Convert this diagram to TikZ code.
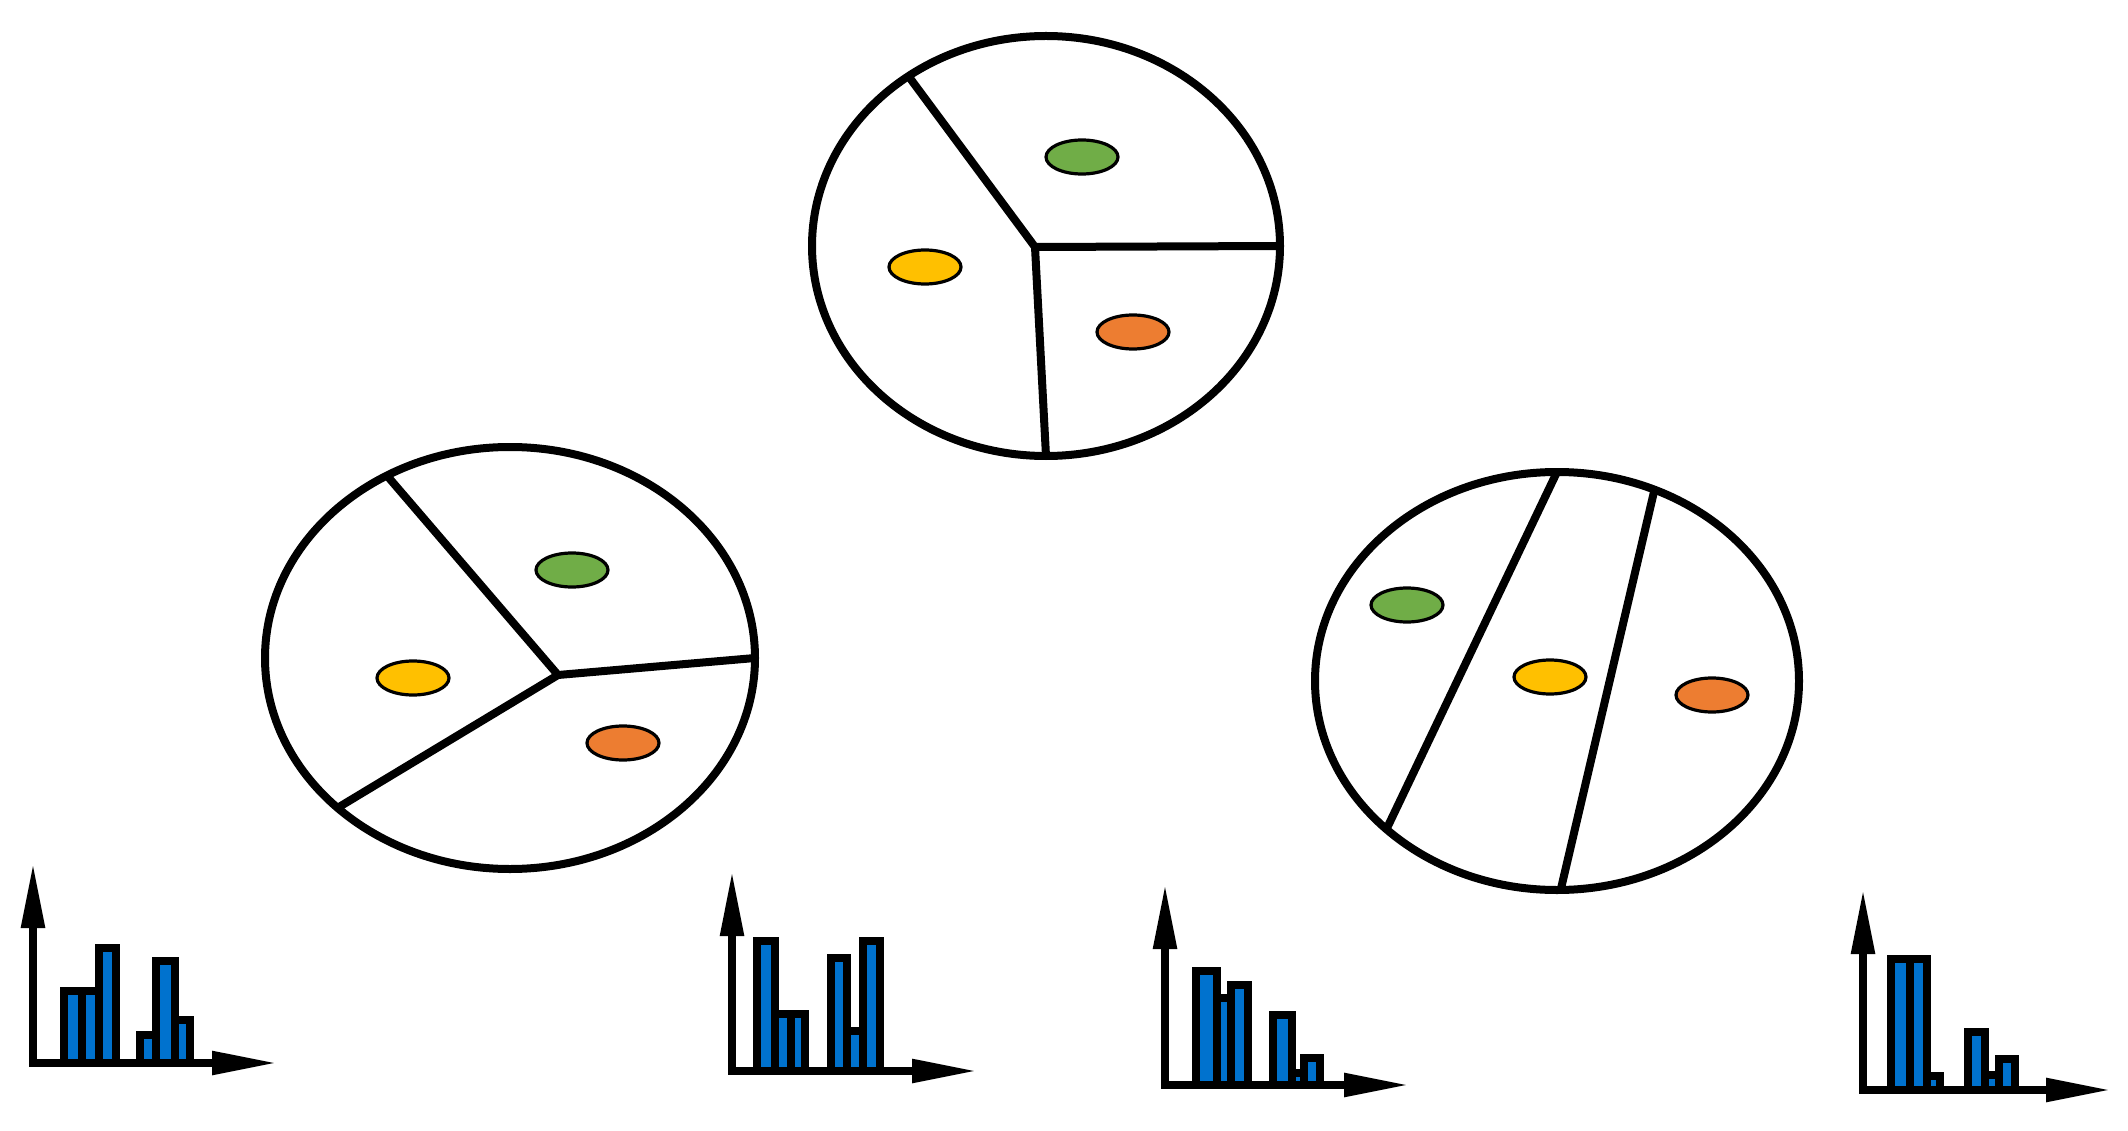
\documentclass[tikz,border=0pt]{standalone}
\usetikzlibrary{shapes.geometric,arrows.meta}
\definecolor{dotgreen}{RGB}{112,173,71}
\definecolor{dotyellow}{RGB}{255,192,0}
\definecolor{dotorange}{RGB}{237,125,49}
\definecolor{barblue}{RGB}{0,114,206}
\tikzset{
  cell/.style={draw, ellipse, line width=8pt, inner sep=0pt, outer sep=0pt},
  divider/.style={line width=8pt, line join=miter},
  dot/.style={draw, ellipse, line width=3.2pt, minimum width=72pt, minimum height=34pt, inner sep=0pt},
  histbar/.style={draw, line width=7.5pt, fill=barblue},
  axis/.style={line width=8.5pt, line cap=rect, -{Triangle[length=66pt,width=22pt]}},
}
\begin{document}
\begin{tikzpicture}[x=1pt,y=-1pt]
\useasboundingbox (0,0) rectangle (2128,1131);

% ---------- top cell ----------
\node[cell, minimum width=468pt, minimum height=420pt] (T) at (1046,246) {};
\coordinate (Tj) at (1035,247);
\draw[divider] (T.129) -- (Tj) -- (T.0);
\draw[divider] (Tj) -- (T.-90);
\node[dot, fill=dotgreen]  (Tg) at (1082,157) {};
\node[dot, fill=dotyellow] (Ty) at (925,267) {};
\node[dot, fill=dotorange] (To) at (1133,332) {};

% ---------- left cell ----------
\node[cell, minimum width=490pt, minimum height=422pt] (L) at (510,658) {};
\coordinate (Lj) at (558,675);
\draw[divider] (L.124) -- (Lj) -- (L.0);
\draw[divider] (Lj) -- (L.-139);
\node[dot, fill=dotgreen]  (Lg) at (572,570) {};
\node[dot, fill=dotyellow] (Ly) at (413,678) {};
\node[dot, fill=dotorange] (Lo) at (623,743) {};

% ---------- right cell ----------
\node[cell, minimum width=484pt, minimum height=418pt] (R) at (1557,681) {};
\draw[divider] (R.90) -- (R.-139);
\draw[divider] (R.63) -- (R.-89);
\node[dot, fill=dotgreen]  (Rg) at (1407,605) {};
\node[dot, fill=dotyellow] (Ry) at (1550,677) {};
\node[dot, fill=dotorange] (Ro) at (1712,695) {};

% ---------- histogram 1 ----------
\foreach \a/\b/\t in {64/82/991, 82/99/991, 99/116/948, 140/156/1035, 156/175/961, 175/190/1020}
  \draw[histbar] (\a,\t) rectangle (\b,1063);
\coordinate (O1) at (33,1063);
\coordinate (Y1) at (33,862);
\coordinate (X1) at (278,1063);
\draw[axis] (O1) -- (Y1);
\draw[axis] (O1) -- (X1);

% ---------- histogram 2 ----------
\foreach \a/\b/\t in {757/775/941, 775/791/1014, 791/805/1014, 831/847/958, 847/863/1031, 863/880/941}
  \draw[histbar] (\a,\t) rectangle (\b,1071);
\coordinate (O2) at (732,1071);
\coordinate (Y2) at (732,870);
\coordinate (X2) at (978,1071);
\draw[axis] (O2) -- (Y2);
\draw[axis] (O2) -- (X2);

% ---------- histogram 3 ----------
\foreach \a/\b/\t in {1196/1217/971, 1217/1231/998, 1231/1248/985, 1273/1292/1015, 1292/1304/1073, 1304/1320/1058}
  \draw[histbar] (\a,\t) rectangle (\b,1085);
\coordinate (O3) at (1165,1085);
\coordinate (Y3) at (1165,883);
\coordinate (X3) at (1410,1085);
\draw[axis] (O3) -- (Y3);
\draw[axis] (O3) -- (X3);

% ---------- histogram 4 ----------
\foreach \a/\b/\t in {1891/1910/959, 1910/1927/959, 1927/1940/1076, 1968/1985/1032, 1985/1999/1075, 1999/2015/1059}
  \draw[histbar] (\a,\t) rectangle (\b,1090);
\coordinate (O4) at (1863,1090);
\coordinate (Y4) at (1863,888);
\coordinate (X4) at (2112,1090);
\draw[axis] (O4) -- (Y4);
\draw[axis] (O4) -- (X4);
\end{tikzpicture}
\end{document}
